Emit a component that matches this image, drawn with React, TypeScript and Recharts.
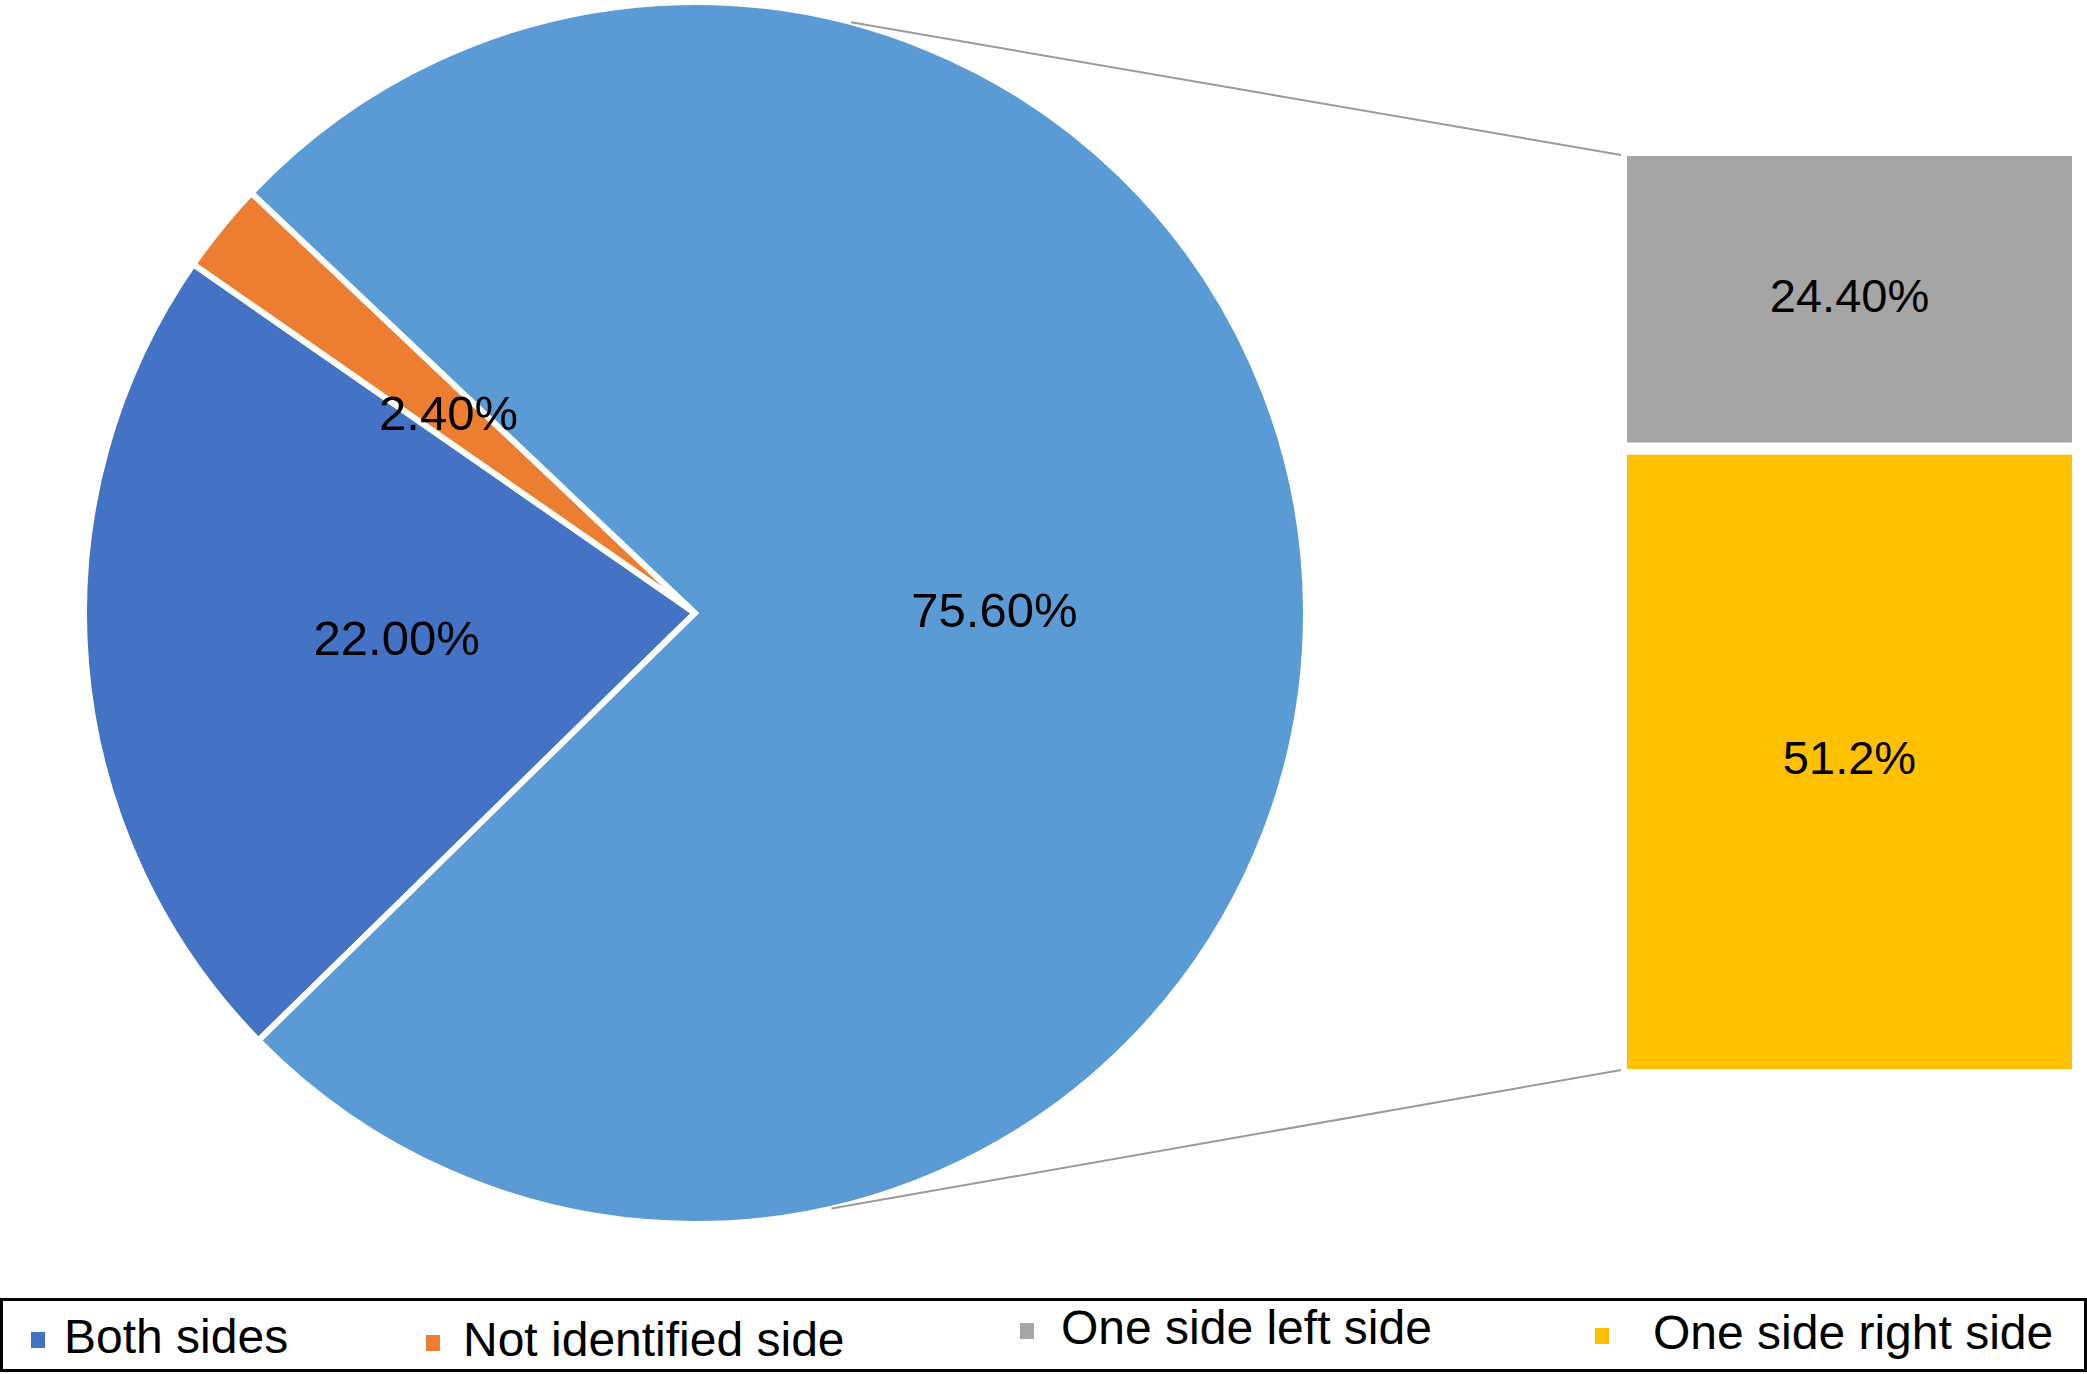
import { Bar, BarChart, Cell, LabelList, Legend, Pie, PieChart, XAxis, YAxis } from "recharts";

const pieNames = ["Both sides", "Not identified side", "One side"];
const pieValues = [22.0, 2.4, 75.6];
const pieLabels = ["22.00%", "2.40%", "75.60%"];
const pieColors = ["#4472C4", "#ED7D31", "#5B9BD5"];

const barNames = ["One side right side", "One side left side"];
const barValues = [51.2, 24.4];
const barLabels = ["51.2%", "24.40%"];
const barColors = ["#FFC000", "#A5A5A5"];

const legendNames = ["Both sides", "Not identified side", "One side left side", "One side right side"];
const legendColors = ["#4472C4", "#ED7D31", "#A5A5A5", "#FFC000"];

// layout
const W = 2087;
const H = 1374;
const CX = 695;
const CY = 613;
const R = 611;
const START = 224.4;
const GAP = 12; // white gap between bar segments
const BAR_LEFT = 1627;
const BAR_TOP = 156;
const BAR_W = 445;
const BAR_H = 913;
const RADIAN = Math.PI / 180;

const pieData = pieNames.map((name, i) => ({ name, value: pieValues[i] }));
const barRow: Record<string, number | string> = { name: "One side" };
barNames.forEach((n, i) => (barRow[n] = barValues[i]));
const barData = [barRow];

const legendSlots = [
  { x: 28, tx: 61, dy: 0 },
  { x: 423, tx: 460, dy: 3 },
  { x: 1017, tx: 1058, dy: -9 },
  { x: 1592, tx: 1650, dy: -4 },
];

const font = "'Liberation Sans', Arial, Helvetica, sans-serif";

function renderPieLabel(props: any) {
  const { cx, cy, midAngle, outerRadius, index } = props;
  const r = outerRadius * (index === 1 ? 0.52 : 0.49);
  const x = cx + r * Math.cos(-midAngle * RADIAN);
  const y = cy + r * Math.sin(-midAngle * RADIAN);
  return (
    <text x={x} y={y} fill="#000" fontSize={49} fontFamily={font} textAnchor="middle" dominantBaseline="central">
      {pieLabels[index]}
    </text>
  );
}

function renderLegend() {
  return (
    <div
      style={{
        position: "relative",
        width: W - 6,
        height: 68,
        border: "3px solid #000",
        background: "#fff",
        fontFamily: font,
      }}
    >
      {legendNames.map((name, i) => (
        <div key={name}>
          <div
            style={{
              position: "absolute",
              left: legendSlots[i].x,
              top: 31 + legendSlots[i].dy,
              width: 14,
              height: 16,
              background: legendColors[i],
            }}
          />
          <div
            style={{
              position: "absolute",
              left: legendSlots[i].tx,
              top: 8 + legendSlots[i].dy,
              fontSize: 48,
              lineHeight: "56px",
              color: "#000",
              whiteSpace: "nowrap",
            }}
          >
            {name}
          </div>
        </div>
      ))}
    </div>
  );
}

export default function App() {
  const topA = 75.2 * RADIAN;
  const botA = -77.1 * RADIAN;
  return (
    <div style={{ position: "absolute", left: 0, top: 0, width: W, height: H, background: "#fff" }}>
      <div style={{ position: "absolute", left: 0, top: 0 }}>
        <PieChart width={W} height={H} margin={{ top: 0, right: 0, bottom: 0, left: 0 }}>
          <Pie
            data={pieData}
            dataKey="value"
            nameKey="name"
            cx={CX}
            cy={CY}
            outerRadius={R}
            startAngle={START}
            endAngle={START - 360}
            stroke="#fff"
            strokeWidth={6}
            label={renderPieLabel}
            labelLine={false}
            isAnimationActive={false}
          >
            {pieData.map((d, i) => (
              <Cell key={d.name} fill={pieColors[i]} />
            ))}
          </Pie>
          <Legend
            content={renderLegend}
            wrapperStyle={{ position: "absolute", left: 0, top: 1298, width: W, height: 74 }}
          />
        </PieChart>
      </div>
      <svg style={{ position: "absolute", left: 0, top: 0 }} width={W} height={1290}>
        <line
          x1={CX + R * Math.cos(topA)}
          y1={CY - R * Math.sin(topA)}
          x2={BAR_LEFT}
          y2={BAR_TOP}
          stroke="#A09A96"
          strokeWidth={2}
        />
        <line
          x1={CX + R * Math.cos(botA)}
          y1={CY - R * Math.sin(botA)}
          x2={BAR_LEFT}
          y2={BAR_TOP + BAR_H}
          stroke="#A09A96"
          strokeWidth={2}
        />
      </svg>
      <div style={{ position: "absolute", left: BAR_LEFT - GAP / 2, top: BAR_TOP - GAP / 2 }}>
        <BarChart
          width={BAR_W + GAP}
          height={BAR_H + GAP}
          data={barData}
          margin={{ top: 0, right: 0, bottom: 0, left: 0 }}
          barCategoryGap={0}
        >
          <XAxis dataKey="name" hide />
          <YAxis hide domain={[0, 75.6]} />
          {barNames.map((n, i) => (
            <Bar key={n} dataKey={n} stackId="a" fill={barColors[i]} stroke="#fff" strokeWidth={GAP} isAnimationActive={false}>
              <LabelList
                dataKey={n}
                position="center"
                formatter={() => barLabels[i]}
                fill="#000"
                fontSize={47}
                fontFamily={font}
                offset={0}
                dy={-4}
              />
            </Bar>
          ))}
        </BarChart>
      </div>
    </div>
  );
}
